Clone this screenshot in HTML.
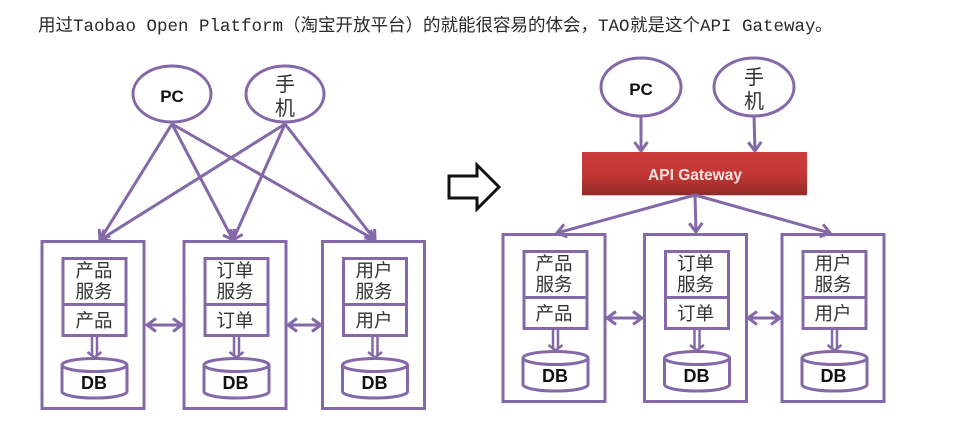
<!DOCTYPE html>
<html><head><meta charset="utf-8">
<style>
html,body{margin:0;padding:0;background:#fff;width:974px;height:443px;overflow:hidden}
svg{display:block}
text{font-family:"Liberation Sans","Noto Sans CJK SC",sans-serif}
.h{font-family:"Liberation Mono","Noto Sans CJK SC",monospace;font-size:17.5px;fill:#2a2a2a}
.z{font-size:18.5px;fill:#333;text-anchor:middle}
.y{font-size:20px;fill:#333;text-anchor:middle}
.db{font-size:18px;font-weight:bold;fill:#111;text-anchor:middle}
.pc{font-size:17px;font-weight:bold;fill:#111;text-anchor:middle}
.s{fill:none;stroke:#8468a8;stroke-width:3}
.a{fill:none;stroke:#8468a8;stroke-width:3;stroke-linejoin:miter}
</style></head><body>
<svg width="974" height="443" viewBox="0 0 974 443" xmlns="http://www.w3.org/2000/svg">
<defs>
<marker id="m" viewBox="0 0 14 16" refX="12" refY="8" markerWidth="14" markerHeight="16" markerUnits="userSpaceOnUse" orient="auto-start-reverse">
<path d="M3 1.5 L12 8 L3 14.5" fill="none" stroke="#8468a8" stroke-width="3"/>
</marker>
<linearGradient id="g" x1="0" y1="0" x2="0" y2="1">
<stop offset="0" stop-color="#cb3b3a"/><stop offset=".55" stop-color="#c23735"/><stop offset="1" stop-color="#922b2a"/>
</linearGradient>
<g id="box">
<rect x="0" y="0" width="102" height="167" class="s"/>
<rect x="21" y="17" width="63" height="77" class="s"/>
<line x1="21" y1="63" x2="84" y2="63" class="s"/>
<line x1="50" y1="94" x2="50" y2="114" stroke="#8468a8" stroke-width="2.5"/>
<line x1="55" y1="94" x2="55" y2="114" stroke="#8468a8" stroke-width="2.5"/>
<path d="M45.5 110.5 L52.5 116 L59.5 110.5" fill="none" stroke="#8468a8" stroke-width="2.5"/>
<path d="M20 123.5 A32.5 6.5 0 0 1 85 123.5 L85 150 A32.5 6.5 0 0 1 20 150 Z" fill="#fff" class="s"/>
<path d="M20 123.5 A32.5 6.5 0 0 0 85 123.5" class="s"/>
</g>
</defs>

<text class="h" y="31"><tspan x="38">用过</tspan><tspan x="73">Taobao Open Platform</tspan><tspan x="283">（淘宝开放平台）的就能很容易的体会，</tspan><tspan x="598">TAO</tspan><tspan x="630">就是这个</tspan><tspan x="700">API Gateway</tspan><tspan x="815">。</tspan></text>

<!-- Left -->
<ellipse cx="172" cy="94" rx="39" ry="28" class="s"/>
<ellipse cx="285" cy="94" rx="39" ry="28" class="s"/>
<text x="172" y="102" class="pc">PC</text>
<text x="285" y="91" class="y">手</text>
<text x="285" y="115" class="y">机</text>
<g class="a">
<line x1="172" y1="124" x2="100" y2="240" marker-end="url(#m)"/>
<line x1="172" y1="124" x2="233" y2="240" marker-end="url(#m)"/>
<line x1="172" y1="124" x2="375" y2="240" marker-end="url(#m)"/>
<line x1="285" y1="124" x2="100" y2="240" marker-end="url(#m)"/>
<line x1="285" y1="124" x2="233" y2="240" marker-end="url(#m)"/>
<line x1="285" y1="124" x2="375" y2="240" marker-end="url(#m)"/>
</g>
<use href="#box" x="42" y="241.5"/>
<use href="#box" x="184" y="241.5"/>
<use href="#box" x="322.5" y="241.5"/>
<text class="z" x="94" y="277">产品</text><text class="z" x="94" y="298">服务</text><text class="z" x="94" y="327">产品</text>
<text class="z" x="235" y="277">订单</text><text class="z" x="235" y="298">服务</text><text class="z" x="235" y="327">订单</text>
<text class="z" x="374" y="277">用户</text><text class="z" x="374" y="298">服务</text><text class="z" x="374" y="327">用户</text>
<text class="db" x="94" y="389">DB</text><text class="db" x="235.5" y="389">DB</text><text class="db" x="374.5" y="389">DB</text>
<line x1="147" y1="325" x2="182" y2="325" class="a" marker-start="url(#m)" marker-end="url(#m)"/>
<line x1="288" y1="325" x2="321" y2="325" class="a" marker-start="url(#m)" marker-end="url(#m)"/>

<!-- Big arrow -->
<path d="M449 176 H477 V165 L499 187 L477 209 V198 H449 Z" fill="#fff" stroke="#111" stroke-width="3"/>

<!-- Right -->
<ellipse cx="641" cy="87" rx="40" ry="29" class="s"/>
<ellipse cx="754" cy="87" rx="40" ry="29" class="s"/>
<text x="641" y="95" class="pc">PC</text>
<text x="754" y="84" class="y">手</text>
<text x="754" y="108" class="y">机</text>
<line x1="641" y1="116" x2="641" y2="151" class="a" marker-end="url(#m)"/>
<line x1="754" y1="116" x2="755" y2="151" class="a" marker-end="url(#m)"/>
<rect x="582" y="153" width="225" height="43" fill="#aaa" opacity=".6"/>
<rect x="582" y="152" width="225" height="43" fill="url(#g)"/>
<text x="695" y="180" font-size="15.5" font-weight="bold" fill="#f5e3e3" text-anchor="middle">API Gateway</text>
<g class="a">
<line x1="695" y1="195" x2="557" y2="233" marker-end="url(#m)"/>
<line x1="695" y1="195" x2="696" y2="232" marker-end="url(#m)"/>
<line x1="695" y1="195" x2="830" y2="233" marker-end="url(#m)"/>
</g>
<use href="#box" x="503" y="234.5"/>
<use href="#box" x="644.5" y="234.5"/>
<use href="#box" x="782" y="234.5"/>
<text class="z" x="554" y="270">产品</text><text class="z" x="554" y="291">服务</text><text class="z" x="554" y="320">产品</text>
<text class="z" x="695.5" y="270">订单</text><text class="z" x="695.5" y="291">服务</text><text class="z" x="695.5" y="320">订单</text>
<text class="z" x="833" y="270">用户</text><text class="z" x="833" y="291">服务</text><text class="z" x="833" y="320">用户</text>
<text class="db" x="555" y="382">DB</text><text class="db" x="696.5" y="382">DB</text><text class="db" x="833.5" y="382">DB</text>
<line x1="607" y1="318" x2="642" y2="318" class="a" marker-start="url(#m)" marker-end="url(#m)"/>
<line x1="748" y1="318" x2="780" y2="318" class="a" marker-start="url(#m)" marker-end="url(#m)"/>
</svg>
</body></html>
